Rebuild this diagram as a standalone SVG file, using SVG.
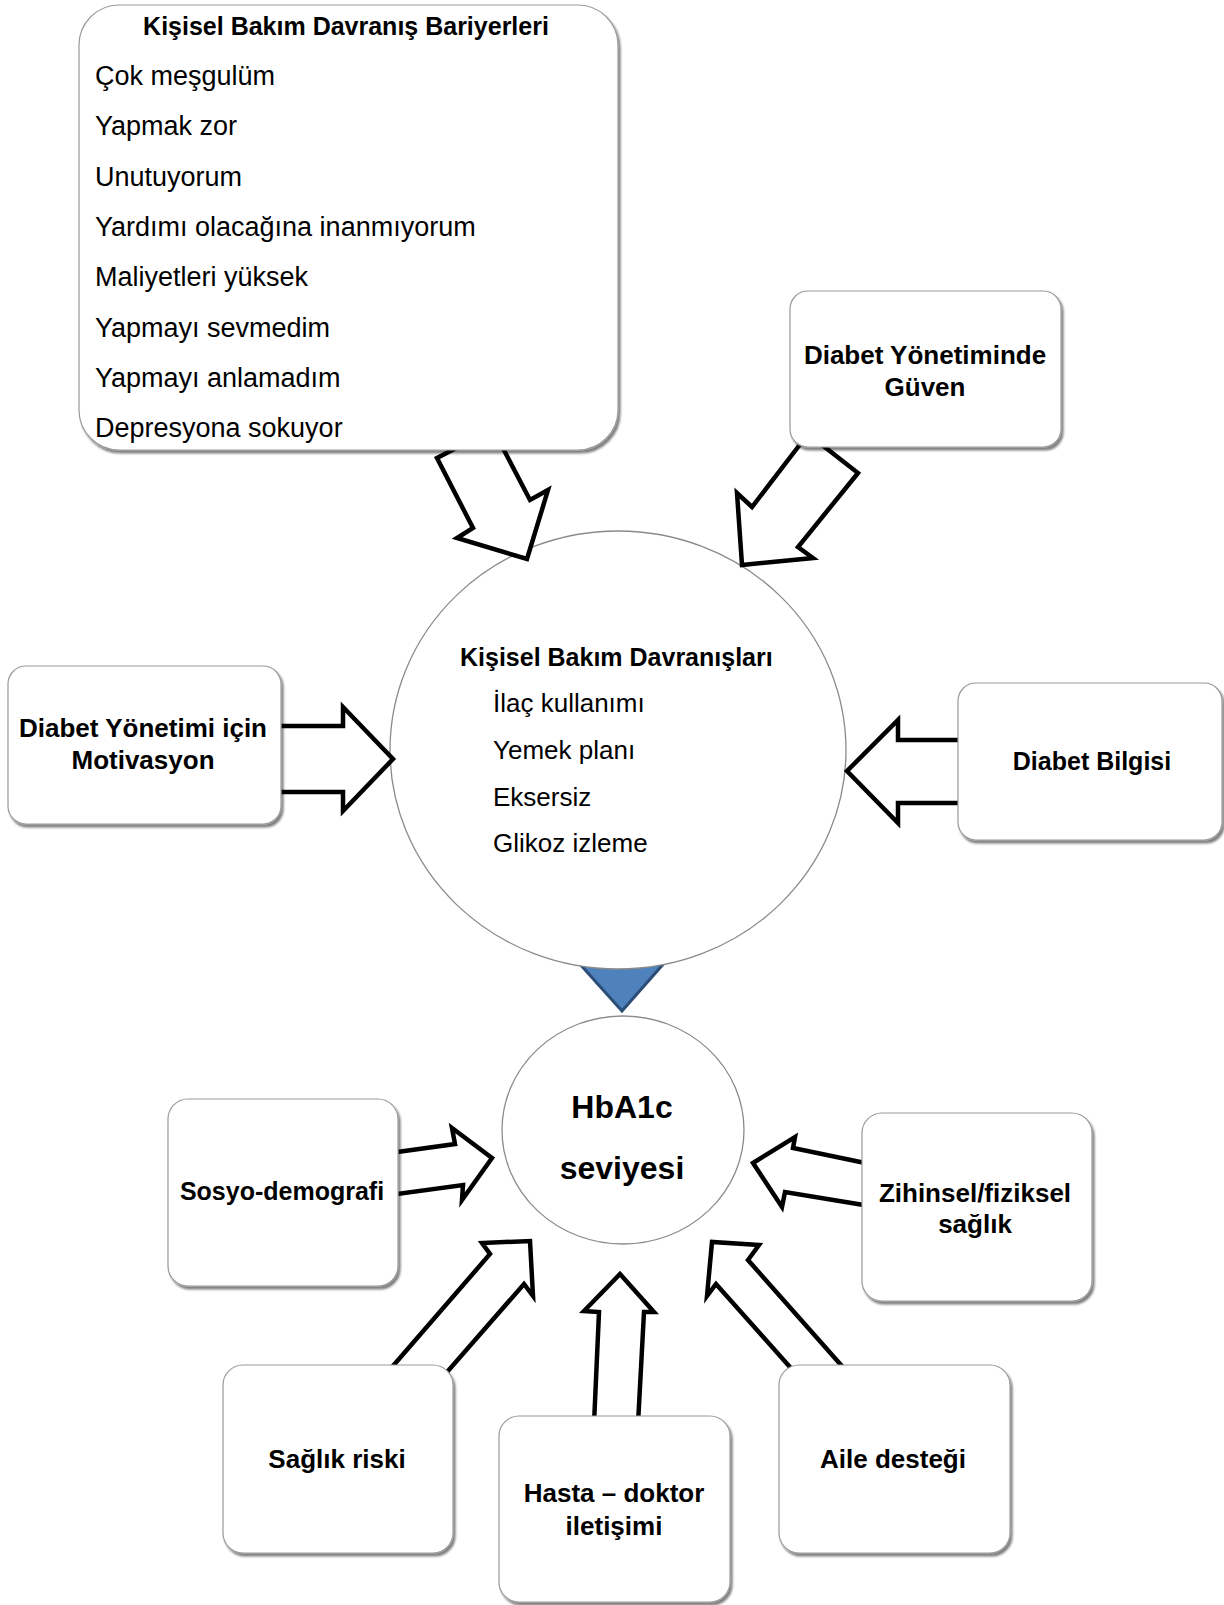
<svg xmlns="http://www.w3.org/2000/svg" width="1224" height="1605" viewBox="0 0 1224 1605">
<defs>
<filter id="sh" x="-10%" y="-10%" width="125%" height="125%">
<feDropShadow dx="2" dy="3" stdDeviation="1.2" flood-color="#000" flood-opacity="0.5"/>
</filter>
</defs>
<style>
.box{fill:#fff;stroke:#9a9a9a;stroke-width:1.2;filter:url(#sh)}
.circ{fill:#fff;stroke:#8a8a8a;stroke-width:1.3}
.arr{fill:#fff;stroke:#000;stroke-width:4.5;stroke-linejoin:miter}
.lbl{font-family:"Liberation Sans",Arial,sans-serif;font-weight:bold;font-size:26px;fill:#000;text-anchor:middle}
.item{font-family:"Liberation Sans",Arial,sans-serif;font-size:26px;fill:#000}
.big{font-family:"Liberation Sans",Arial,sans-serif;font-weight:bold;font-size:32px;fill:#000;text-anchor:middle}
</style>
<rect width="1224" height="1605" fill="#fff"/>
<polygon id="flow-triangle" fill="#4f81bd" stroke="#2c4d75" stroke-width="3" stroke-linejoin="miter" points="578,962 666,961 622,1011"/>
<g id="behaviours">
<ellipse class="circ" cx="618" cy="750" rx="228" ry="219"/>
<text class="lbl" x="460" y="666" style="font-size:25px;text-anchor:start">Kişisel Bakım Davranışları</text>
<text class="item" x="493" y="712">İlaç kullanımı</text>
<text class="item" x="493" y="759">Yemek planı</text>
<text class="item" x="493" y="806">Eksersiz</text>
<text class="item" x="493" y="852">Glikoz izleme</text>
</g>
<g id="hba1c">
<ellipse class="circ" cx="623" cy="1130" rx="121" ry="114"/>
<text class="big" x="622" y="1118">HbA1c</text>
<text class="big" x="622" y="1179">seviyesi</text>
</g>
<g id="connectors">
<polygon class="arr" points="437,458 473,528 457,538 527,559 548,490 530,500 493,429"/>
<polygon class="arr" points="808,434 752,507 737,493 742,565 813,558 798,547 858,473"/>
<polygon class="arr" points="270,726 343,726 343,707 393,759 343,811 343,792 270,792"/>
<polygon class="arr" points="968,740 898,740 898,720 847,771 898,823 898,803 968,803"/>
<polygon class="arr" points="390,1153 455,1144 452,1128 492,1158 462,1200 463,1185 390,1195"/>
<polygon class="arr" points="870,1164 793,1148 795,1137 753,1163 782,1207 785,1192 870,1206"/>
<polygon class="arr" points="386,1374 490,1254 482,1243 530,1241 533,1296 524,1284 441,1379"/>
<polygon class="arr" points="594,1424 599,1312 584,1311 620,1274 654,1312 644,1312 638,1424"/>
<polygon class="arr" points="849,1374 748,1260 759,1245 712,1242 707,1296 716,1284 797,1375"/>
</g>
<g id="barriers">
<rect class="box" x="79" y="5" width="539" height="445" rx="40"/>
<text class="lbl" x="346" y="35" style="font-size:25px">Kişisel Bakım Davranış Bariyerleri</text>
<text class="item" x="95" y="85" style="font-size:27px">Çok meşgulüm</text>
<text class="item" x="95" y="135" style="font-size:27px">Yapmak zor</text>
<text class="item" x="95" y="186" style="font-size:27px">Unutuyorum</text>
<text class="item" x="95" y="236" style="font-size:27px">Yardımı olacağına inanmıyorum</text>
<text class="item" x="95" y="286" style="font-size:27px">Maliyetleri yüksek</text>
<text class="item" x="95" y="337" style="font-size:27px">Yapmayı sevmedim</text>
<text class="item" x="95" y="387" style="font-size:27px">Yapmayı anlamadım</text>
<text class="item" x="95" y="437" style="font-size:27px">Depresyona sokuyor</text>
</g>
<g id="confidence">
<rect class="box" x="790" y="291" width="271" height="156" rx="18"/>
<text class="lbl" x="925" y="364">Diabet Yönetiminde</text>
<text class="lbl" x="925" y="396">Güven</text>
</g>
<g id="motivation">
<rect class="box" x="8" y="666" width="273" height="158" rx="18"/>
<text class="lbl" x="143" y="737">Diabet Yönetimi için</text>
<text class="lbl" x="143" y="769">Motivasyon</text>
</g>
<g id="knowledge">
<rect class="box" x="958" y="683" width="264" height="157" rx="18"/>
<text class="lbl" x="1092" y="770" style="font-size:25px">Diabet Bilgisi</text>
</g>
<g id="sociodemo">
<rect class="box" x="168" y="1099" width="230" height="187" rx="20"/>
<text class="lbl" x="282" y="1200" style="font-size:25px">Sosyo-demografi</text>
</g>
<g id="mentalphysical">
<rect class="box" x="862" y="1113" width="230" height="188" rx="20"/>
<text class="lbl" x="975" y="1202">Zihinsel/fiziksel</text>
<text class="lbl" x="975" y="1233">sağlık</text>
</g>
<g id="healthrisk">
<rect class="box" x="223" y="1365" width="230" height="188" rx="20"/>
<text class="lbl" x="337" y="1468">Sağlık riski</text>
</g>
<g id="patientdoctor">
<rect class="box" x="499" y="1416" width="231" height="186" rx="20"/>
<text class="lbl" x="614" y="1502">Hasta – doktor</text>
<text class="lbl" x="614" y="1535">iletişimi</text>
</g>
<g id="family">
<rect class="box" x="779" y="1365" width="231" height="188" rx="20"/>
<text class="lbl" x="893" y="1468">Aile desteği</text>
</g>
</svg>
